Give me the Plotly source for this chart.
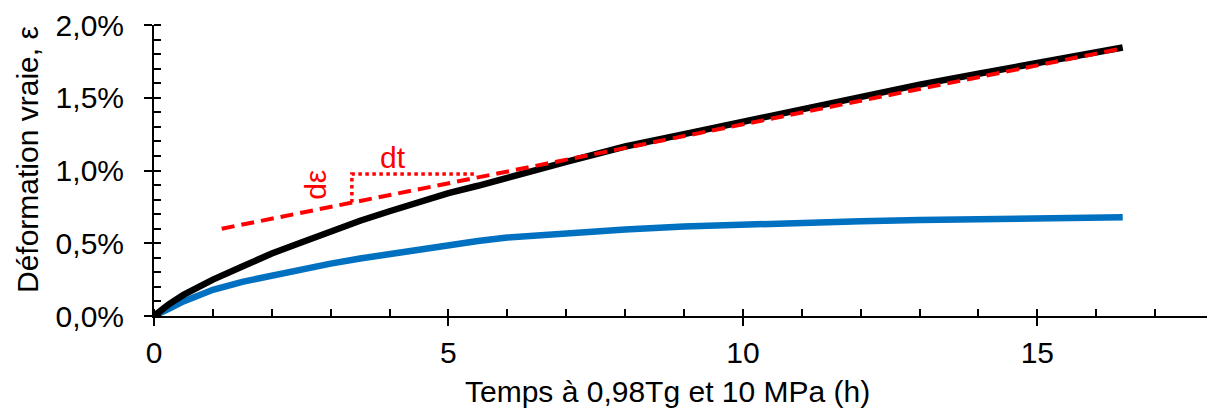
import plotly.graph_objects as go

# time (h)
t = [0, 0.1, 0.25, 0.5, 0.75, 1, 1.5, 2, 2.5, 3, 3.5, 4, 4.5, 5, 5.5, 6, 6.5, 7, 8, 9, 10, 11, 12, 13, 14, 15, 16, 16.45]
# black series: true strain (%)
eps_black = [0, 0.035, 0.08, 0.145, 0.20, 0.25, 0.34, 0.43, 0.505, 0.585, 0.655, 0.72, 0.785, 0.845, 0.895, 0.945, 1.005,
             1.06, 1.165, 1.25, 1.335, 1.43, 1.515, 1.59, 1.665, 1.735, 1.805, 1.845]
# blue series: true strain (%)
eps_blue = [0, 0.025, 0.05, 0.10, 0.145, 0.18, 0.235, 0.28, 0.325, 0.36, 0.395, 0.425, 0.46, 0.495, 0.515, 0.54, 0.555,
            0.57, 0.595, 0.615, 0.63, 0.645, 0.652, 0.66, 0.665, 0.67, 0.675, 0.678]

# fitted tangent (red dashed)
fit_t = [1.15, 16.45]
fit_eps = [0.60, 1.84]

# slope triangle (red dotted)
tri_t = [3.36, 3.36, 5.45]
tri_eps = [0.78, 0.976, 0.976]

x_ticks = [0, 5, 10, 15]
y_ticks = [0.0, 0.5, 1.0, 1.5, 2.0]

FONT = "Arial, Liberation Sans, sans-serif"
FS = 30

fig = go.Figure()
fig.add_trace(go.Scatter(x=t, y=eps_blue, mode="lines",
                         line=dict(color="#0070C0", width=6.5), showlegend=False))
fig.add_trace(go.Scatter(x=t, y=eps_black, mode="lines",
                         line=dict(color="black", width=6.5), showlegend=False))
fig.add_trace(go.Scatter(x=fit_t, y=fit_eps, mode="lines",
                         line=dict(color="#FF0000", width=4, dash="13px,7px"), showlegend=False))
fig.add_trace(go.Scatter(x=tri_t, y=tri_eps, mode="lines",
                         line=dict(color="#FF0000", width=3.5, dash="3.5px,3.5px"), showlegend=False))

# invisible trace on overlay axes (used for inside part of major ticks)
fig.add_trace(go.Scatter(x=[0], y=[0], xaxis="x2", yaxis="y2", mode="markers",
                         marker=dict(opacity=0), showlegend=False, hoverinfo="skip"))

axis_common = dict(showgrid=False, zeroline=False, showline=True, linecolor="black", linewidth=2,
                   tickcolor="black", tickwidth=2, ticks="outside", ticklen=8,
                   ticklabeloverflow="allow",
                   tickfont=dict(family=FONT, size=FS, color="black"))

# page body has an 8px margin: compensate so that the plot area lands where the reference has it
fig.update_layout(
    width=1207, height=402,
    margin=dict(l=146, r=1, t=17, b=94),
    plot_bgcolor="white", paper_bgcolor="white",
    xaxis=dict(range=[0, 18], tickvals=x_ticks, ticktext=[str(v) for v in x_ticks],
               ticklabelstandoff=1,
               minor=dict(dtick=1, ticks="inside", ticklen=7, tickwidth=2, tickcolor="black"),
               **axis_common),
    yaxis=dict(range=[0, 2.0], tickvals=y_ticks, ticktext=[f"{v:.1f}".replace(".", ",") + "%" for v in y_ticks],
               ticklabelstandoff=14,
               minor=dict(dtick=0.1, ticks="inside", ticklen=7, tickwidth=2, tickcolor="black"),
               **axis_common),
    xaxis2=dict(range=[0, 18], overlaying="x", tickvals=x_ticks, ticks="inside", ticklen=7, tickwidth=2,
                tickcolor="black", showticklabels=False, showgrid=False, zeroline=False, showline=False,
                anchor="y2"),
    yaxis2=dict(range=[0, 2.0], overlaying="y", tickvals=y_ticks, ticks="inside", ticklen=7, tickwidth=2,
                tickcolor="black", showticklabels=False, showgrid=False, zeroline=False, showline=False,
                anchor="x2"),
)

fig.add_annotation(text="Temps à 0,98Tg et 10 MPa (h)", xref="paper", yref="paper",
                   x=0.484, y=-0.261, xanchor="center", yanchor="middle", showarrow=False,
                   font=dict(family=FONT, size=FS, color="black"))
fig.add_annotation(text="Déformation vraie, ε", xref="paper", yref="paper",
                   x=-0.1198, y=0.536, xanchor="center", yanchor="middle", showarrow=False, textangle=-90,
                   font=dict(family=FONT, size=FS, color="black"))
fig.add_annotation(text="dt", x=4.06, y=1.09, xref="x", yref="y", showarrow=False,
                   font=dict(family=FONT, size=FS, color="#FF0000"))
fig.add_annotation(text="dε", x=2.73, y=0.90, xref="x", yref="y", showarrow=False, textangle=-90,
                   font=dict(family=FONT, size=FS, color="#FF0000"))

fig.write_html("out.html")
